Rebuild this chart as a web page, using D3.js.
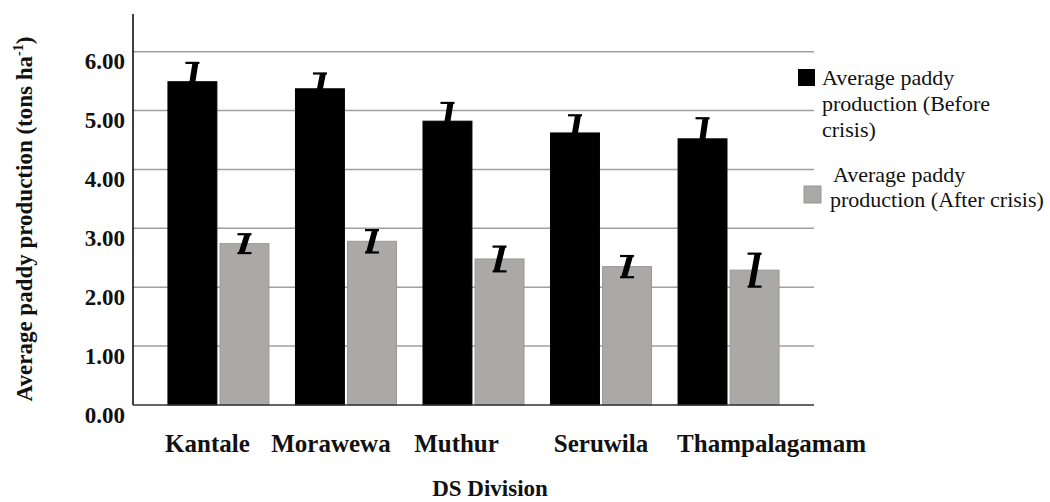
<!DOCTYPE html>
<html><head><meta charset="utf-8">
<script src="https://cdn.jsdelivr.net/npm/d3@7"></script>
<style>body{margin:0;background:#fff}svg{display:block}</style>
</head><body><svg id="c" width="1050" height="502"></svg>
<script>
const categories = ["Kantale","Morawewa","Muthur","Seruwila","Thampalagamam"];
const seriesNames = ["Average paddy production (Before crisis)","Average paddy production (After crisis)"];
const beforeValues = [5.49, 5.37, 4.82, 4.62, 4.52];
const beforeErrors = [0.32, 0.26, 0.31, 0.30, 0.35];
const afterValues = [2.74, 2.78, 2.48, 2.35, 2.29];
const afterErrors = [0.16, 0.19, 0.21, 0.18, 0.28];
const yTicks = [0,1,2,3,4,5,6];

const svg = d3.select("#c");
const L = 133, R = 814, T = 14, B = 405;
const serif = "'Liberation Serif','Times New Roman',serif";
const colors = ["#000000","#aba8a8"];

const x = d3.scaleBand().domain(categories).range([L, R]).paddingInner(0.208).paddingOuter(0.274);
const xs = d3.scaleBand().domain([0,1]).range([0, x.bandwidth()]).paddingInner(0.06);
const y = d3.scaleLinear().domain([0, 6.64]).range([B, T]);

// gridlines
svg.append("g").selectAll("line").data(yTicks.slice(1)).join("line")
  .attr("x1", L).attr("x2", R).attr("y1", d=>y(d)).attr("y2", d=>y(d))
  .attr("stroke", "#a0a0a0").attr("stroke-width", 1.5);

// y axis
const yAxis = svg.append("g").attr("transform", `translate(${L},0)`)
  .call(d3.axisLeft(y).tickValues(yTicks).tickFormat(d3.format(".2f")).tickSize(0).tickPadding(8));
yAxis.select(".domain").remove();
yAxis.selectAll("text").attr("font-family", serif).attr("font-weight","bold").attr("font-size", 23)
  .attr("fill","#111").attr("dy","0.75em");
svg.append("line").attr("x1", L).attr("x2", L).attr("y1", T).attr("y2", B).attr("stroke","#000").attr("stroke-width",1.5);

const data = categories.map((c,i)=>[
  {c, s:0, v:beforeValues[i], e:beforeErrors[i]},
  {c, s:1, v:afterValues[i], e:afterErrors[i]}
]).flat();

const g = svg.append("g");
g.selectAll("rect").data(data).join("rect")
  .attr("x", d=>x(d.c)+xs(d.s)).attr("width", xs.bandwidth())
  .attr("y", d=>y(d.v)).attr("height", d=>y(0)-y(d.v))
  .attr("fill", d=>colors[d.s]).attr("stroke", d=>d.s?"#9a9797":"#000").attr("stroke-width",1);

// x axis line
svg.append("line").attr("x1", L).attr("x2", R).attr("y1", B).attr("y2", B).attr("stroke","#333").attr("stroke-width",1.5);

// error bars
const eb = svg.append("g");
data.forEach(d=>{
  const cx = x(d.c)+xs(d.s)+xs.bandwidth()/2;
  const yt = y(d.v+d.e), yb = y(d.v-d.e);
  eb.append("path").attr("d", `M${cx},${yt}L${cx+6},${yt}L${cx},${yb}L${cx-6},${yb}Z`).attr("fill","#000");
  [yt,yb].forEach(yy=>eb.append("line").attr("x1",cx-7).attr("x2",cx+7).attr("y1",yy).attr("y2",yy)
    .attr("stroke","#000").attr("stroke-width",2.2));
});

// x labels (small per-label nudges as in the original layout)
const labelNudge = [-11, -15, -17, 0, 43];
svg.append("g").selectAll("text").data(categories).join("text")
  .attr("x", (d,i)=>x(d)+x.bandwidth()/2+labelNudge[i]).attr("y", 452).attr("text-anchor","middle")
  .attr("font-family", serif).attr("font-weight","bold").attr("font-size",25).attr("fill","#111").text(d=>d);

svg.append("text").attr("x", 490).attr("y", 496).attr("text-anchor","middle")
  .attr("font-family", serif).attr("font-weight","bold").attr("font-size",23).attr("fill","#111").text("DS Division");

// y title
const yt = svg.append("text").attr("transform", `translate(32,${(33+405)/2}) rotate(-90)`).attr("text-anchor","middle")
  .attr("font-family", serif).attr("font-weight","bold").attr("font-size",23).attr("fill","#111");
yt.append("tspan").text("Average paddy production (tons ha");
yt.append("tspan").attr("font-size",14).attr("dy",-9).text("-1");
yt.append("tspan").attr("dy",9).text(")");

// legend
const lg = svg.append("g").attr("font-family", serif).attr("font-size",22).attr("fill","#111");
lg.append("rect").attr("x",798).attr("y",69).attr("width",17).attr("height",17).attr("fill",colors[0]);
[["Average paddy",85],["production (Before",111],["crisis)",137]].forEach(([t,yy])=>
  lg.append("text").attr("x",822).attr("y",yy).text(t));
lg.append("rect").attr("x",804).attr("y",186).attr("width",17).attr("height",17).attr("fill",colors[1]).attr("stroke","#9a9797");
lg.append("text").attr("x",833).attr("y",182).text("Average paddy");
lg.append("text").attr("x",830).attr("y",207).text("production (After crisis)");
</script></body></html>
